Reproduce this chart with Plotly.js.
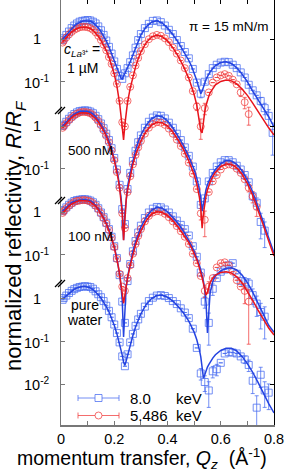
<!DOCTYPE html>
<html><head><meta charset="utf-8">
<script src="https://cdn.plot.ly/plotly-3.0.1.min.js"></script>
<style>html,body{margin:0;padding:0;background:#fff;}#chart{width:285px;height:474px;}</style>
</head><body><div id="chart"></div>
<script>
// ---------- data ----------
const qData = [0.006,0.01,0.02,0.03,0.04,0.05,0.06,0.07,0.08,0.09,0.10,0.11,0.12,0.13,0.14,0.15,0.16,0.17,0.18,0.19,0.20,0.21,0.22,0.23,0.24,0.25,0.26,0.27,0.28,0.29,0.30,0.315,0.33,0.345,0.36,0.375,0.39,0.405,0.42,0.435,0.45,0.465,0.48,0.495,0.51,0.525,0.54,0.555,0.57,0.585,0.60,0.615,0.63,0.645,0.66,0.675,0.69,0.705,0.72,0.735,0.75,0.765,0.78,0.795];
const qFit = [0.006,0.02,0.03,0.04,0.05,0.06,0.07,0.08,0.09,0.10,0.11,0.12,0.13,0.14,0.15,0.16,0.17,0.18,0.19,0.20,0.21,0.215,0.22,0.225,0.23,0.235,0.24,0.245,0.25,0.26,0.27,0.28,0.29,0.30,0.32,0.34,0.36,0.38,0.40,0.42,0.44,0.46,0.48,0.49,0.50,0.51,0.515,0.52,0.525,0.53,0.535,0.54,0.545,0.55,0.555,0.56,0.57,0.58,0.60,0.62,0.64,0.66,0.68,0.70,0.72,0.74,0.76,0.78,0.80];

const panelLabels = ['1 µM','500 nM','100 nM','pure water'];
const energyLabels = ['8.0 keV','5.486 keV'];

// panel 1: c = 1 uM
const p1BlueData = [0.96,1.05,1.26,1.51,1.82,2.09,2.34,2.57,2.69,2.75,2.82,2.75,2.57,2.34,2.0,1.62,1.26,0.93,0.66,0.46,0.30,0.20,0.138,0.117,0.158,0.209,0.288,0.417,0.631,0.955,1.32,1.82,2.29,2.69,2.75,2.51,2.09,1.66,1.32,0.955,0.692,0.50,0.355,0.20,0.0955,0.0525,0.10,0.151,0.209,0.251,0.282,0.295,0.288,0.251,0.209,0.166,0.126,0.085,0.063,0.048,0.0355,0.024,0.0158,0.0063];
const p1RedData = [0.83,0.91,1.10,1.29,1.48,1.66,1.78,1.91,1.95,1.95,1.91,1.82,1.66,1.45,1.20,0.955,0.741,0.55,0.38,0.263,0.158,0.0891,0.0355,0.0112,0.0089,0.0355,0.0759,0.141,0.24,0.363,0.525,0.759,1.0,1.17,1.26,1.20,1.05,0.851,0.631,0.457,0.316,0.209,0.126,0.0603,0.0263,0.0089,0.024,0.0562,0.0955,0.126,0.141,0.151,0.138,0.112,0.087,0.0562,0.0331,0.0174,null,null,null,null,null,null];
const p1BlueFit = [1.0,1.26,1.51,1.78,2.04,2.29,2.51,2.63,2.69,2.69,2.63,2.45,2.19,1.86,1.51,1.20,0.912,0.661,0.457,0.309,0.209,0.174,0.145,0.123,0.117,0.132,0.158,0.186,0.214,0.295,0.427,0.631,0.912,1.26,1.95,2.51,2.69,2.40,1.82,1.29,0.851,0.537,0.316,0.234,0.166,0.107,0.0832,0.0631,0.0525,0.0603,0.0759,0.0955,0.115,0.132,0.151,0.170,0.204,0.240,0.282,0.295,0.269,0.214,0.151,0.100,0.0603,0.038,0.024,0.0151,0.0087];
const p1RedFit = [0.87,1.10,1.29,1.48,1.62,1.78,1.86,1.91,1.91,1.86,1.78,1.62,1.41,1.17,0.933,0.724,0.537,0.380,0.251,0.151,0.0794,0.0525,0.0316,0.0166,0.0079,0.0043,0.01,0.02,0.0331,0.0708,0.132,0.224,0.347,0.501,0.832,1.12,1.23,1.15,0.912,0.631,0.398,0.229,0.120,0.0794,0.0501,0.0282,0.0191,0.012,0.0071,0.0063,0.012,0.02,0.0282,0.0372,0.0457,0.055,0.0708,0.0851,0.102,0.110,0.105,0.0891,0.0676,0.0479,0.0316,0.02,0.0126,0.0083,0.0056];

// panel 2: 500 nM
const p2BlueData = [1.0,1.07,1.26,1.48,1.70,1.91,2.09,2.24,2.29,2.34,2.29,2.19,2.0,1.74,1.45,1.15,0.891,0.661,0.468,0.302,0.178,0.0955,0.0417,0.0112,0.005,0.0331,0.0794,0.151,0.263,0.417,0.603,0.912,1.26,1.58,1.78,1.74,1.51,1.20,0.912,0.661,0.468,0.316,0.20,0.112,0.0501,0.0141,0.02,0.0501,0.0794,0.112,0.141,0.158,0.158,0.141,0.117,0.0955,0.0708,0.0479,0.0224,0.0158,0.0056,0.0035,null,null];
const p2RedData = [0.91,1.0,1.17,1.38,1.58,1.78,1.95,2.09,2.14,2.14,2.09,2.0,1.82,1.58,1.32,1.05,0.794,0.589,0.417,0.269,0.158,0.0832,0.0355,0.0089,0.004,0.0282,0.0661,0.126,0.209,0.316,0.447,0.661,0.912,1.12,1.23,1.20,1.07,0.871,0.661,0.479,0.339,0.224,0.138,0.0759,0.0331,0.0089,0.0063,0.0282,0.0501,0.0708,0.0955,0.120,0.126,0.120,0.1,0.0794,0.0562,0.0355,0.0224,0.0126,null,null,null,null];
const p2BlueFit = [1.0,1.26,1.48,1.70,1.91,2.09,2.19,2.24,2.24,2.19,2.09,1.91,1.66,1.38,1.10,0.851,0.631,0.447,0.288,0.174,0.0933,0.0631,0.0398,0.0224,0.0105,0.0021,0.0089,0.0224,0.038,0.0832,0.158,0.269,0.427,0.617,1.05,1.48,1.74,1.66,1.32,0.912,0.575,0.347,0.191,0.138,0.0955,0.0603,0.0447,0.0316,0.02,0.01,0.0151,0.024,0.0331,0.0417,0.0501,0.0589,0.0759,0.0955,0.132,0.155,0.151,0.126,0.0891,0.0537,0.0282,0.0132,0.0056,0.0024,0.00105];
const p2RedFit = [0.912,1.17,1.38,1.58,1.78,1.91,2.0,2.04,2.04,2.0,1.91,1.74,1.51,1.26,1.0,0.776,0.575,0.407,0.263,0.158,0.0832,0.0562,0.0355,0.019,0.0089,0.0021,0.0079,0.019,0.0316,0.0692,0.126,0.209,0.316,0.447,0.759,1.05,1.23,1.20,1.0,0.724,0.468,0.282,0.151,0.107,0.0724,0.0437,0.0316,0.0209,0.012,0.004,0.0089,0.0158,0.0234,0.0316,0.0398,0.0479,0.0646,0.0813,0.112,0.129,0.126,0.105,0.0741,0.0447,0.0234,0.011,0.0047,0.002,0.00089];

// panel 3: 100 nM
const p3BlueData = [1.05,1.12,1.29,1.48,1.66,1.82,1.91,1.95,2.0,2.0,1.95,1.86,1.70,1.48,1.23,0.977,0.759,0.562,0.398,0.263,0.158,0.0832,0.0331,0.0079,0.0025,0.024,0.0603,0.120,0.209,0.331,0.479,0.724,0.977,1.20,1.32,1.29,1.15,0.977,0.794,0.631,0.501,0.398,0.282,0.158,0.0891,0.038,0.0079,0.0025,0.0158,0.0282,0.0398,0.0447,0.0562,0.0631,0.0355,0.024,0.0224,0.0209,0.0112,0.0071,0.0045,0.0035,null,null];
const p3RedData = [0.955,1.05,1.23,1.41,1.58,1.74,1.82,1.86,1.91,1.91,1.86,1.78,1.62,1.41,1.17,0.933,0.724,0.537,0.380,0.251,0.151,0.0794,0.0355,0.0178,0.0141,0.0282,0.0562,0.105,0.178,0.275,0.398,0.603,0.813,0.977,1.05,1.02,0.912,0.759,0.603,0.468,0.355,0.263,0.178,0.105,0.0631,0.0316,0.0141,0.0178,0.0282,0.0501,0.0631,0.066,0.0562,0.0398,0.0251,0.0178,0.0141,0.0079,null,null,null,null,null,null];
const p3BlueFit = [1.05,1.29,1.48,1.66,1.78,1.86,1.91,1.95,1.95,1.91,1.82,1.66,1.45,1.20,0.955,0.741,0.550,0.389,0.257,0.155,0.0813,0.055,0.0347,0.019,0.0083,0.00117,0.0071,0.0178,0.0302,0.0646,0.120,0.20,0.309,0.447,0.759,1.10,1.29,1.23,1.02,0.759,0.537,0.355,0.219,0.166,0.120,0.0851,0.0692,0.0562,0.0437,0.0331,0.024,0.0151,0.0071,0.00145,0.0063,0.0126,0.0234,0.0316,0.0417,0.0479,0.049,0.0437,0.0331,0.0219,0.0132,0.0074,0.004,0.0022,0.0015];
const p3RedFit = [0.955,1.20,1.38,1.55,1.70,1.78,1.86,1.86,1.86,1.82,1.74,1.58,1.38,1.15,0.912,0.708,0.525,0.372,0.245,0.148,0.0794,0.0537,0.0347,0.0209,0.012,0.0072,0.0112,0.019,0.0282,0.0562,0.102,0.170,0.257,0.363,0.631,0.891,1.02,0.977,0.832,0.631,0.447,0.302,0.191,0.145,0.107,0.0759,0.0617,0.049,0.038,0.0288,0.0209,0.0148,0.0112,0.0132,0.0174,0.0219,0.0282,0.0331,0.038,0.0398,0.0372,0.0302,0.0219,0.0141,0.0085,0.005,0.003,0.0019,0.0013];

// panel 4: pure water (8.0 keV only)
const p4BlueData = [0.955,1.05,1.20,1.38,1.55,1.70,1.82,1.91,1.95,2.0,1.95,1.91,1.74,1.51,1.29,1.10,0.891,0.692,0.525,0.372,0.251,0.158,0.0955,0.0447,0.0263,0.0501,0.0955,0.151,0.234,0.331,0.447,0.661,0.891,1.07,1.20,1.23,1.17,1.05,0.891,0.759,0.603,0.479,0.355,0.20,0.0708,0.0178,0.0112,0.0071,0.02,0.0224,0.0316,0.0525,0.0562,0.055,0.0525,0.0447,0.038,0.0282,0.012,0.0028,0.0166,0.0071,0.0063,null];
const p4BlueFit = [1.0,1.20,1.38,1.55,1.70,1.82,1.91,1.95,1.95,1.91,1.82,1.66,1.48,1.26,1.05,0.851,0.661,0.501,0.355,0.240,0.151,0.117,0.0891,0.0661,0.0479,0.0331,0.0275,0.0355,0.0479,0.0832,0.138,0.219,0.324,0.447,0.741,1.02,1.20,1.23,1.10,0.891,0.661,0.468,0.302,0.229,0.166,0.110,0.0851,0.0631,0.0437,0.0251,0.0138,0.0166,0.0209,0.0251,0.0288,0.0331,0.0407,0.049,0.0617,0.0692,0.0692,0.0603,0.0447,0.0302,0.019,0.011,0.006,0.0035,0.0021];

// relative error bars for the tail of qData (from q = 0.45 on)
const errTailStart = 40;
const p1BlueErr = [0,0,0,0,0,0.2,0.1,0,0,0,0,0,0,0,0,0,0,0,0,0,0.2,0.3,0.4,0.7];
const p1RedErr  = [0,0,0,0,0.2,0.5,0.3,0,0,0,0,0,0,0,0,0.2,0.3,0.45,0,0,0,0,0,0];
const p2BlueErr = [0,0,0,0,0,0,0,0,0,0,0,0,0,0,0,0,0,0,0.2,0.3,0.6,0.6,0,0];
const p2RedErr  = [0,0,0,0,0,0.3,0.6,0,0,0,0,0,0,0,0,0,0,0.2,0.3,0.4,0,0,0,0];
const p3BlueErr = [0,0,0,0,0,0,0.3,0.7,0.3,0,0,0,0,0,0,0,0.3,0.3,0.4,0.5,0.6,0.7,0,0];
const p3RedErr  = [0,0,0,0,0,0,0.3,0.3,0,0,0,0,0,0,0,0,0.5,0.9,0,0,0,0,0,0];
const p4BlueErr = [0,0,0,0,0,0.3,0.4,0.6,0.3,0.3,0,0,0,0,0,0,0.2,0.3,0.5,0.9,0.5,0.6,0.6,0];

// stacking: each curve is shifted by this many decades
const panelOffsetDecades = [6.10, 4.06, 2.04, 0];
const panelTickDecades = [[0,-1],[0,-1],[0,-1],[0,-1,-2]];
const yTickText = {'0':'1','-1':'10<sup>-1</sup>','-2':'10<sup>-2</sup>'};
const xTickVals = [0,0.2,0.4,0.6,0.8];
const xTickText = ['0','0.2','0.4','0.6','0.8'];
const xMinorTickVals = [0.1,0.3,0.5,0.7];

// ---------- style ----------
const blueMarker = 'rgba(70,105,240,0.75)';
const redMarker = 'rgba(240,60,60,0.75)';
const blueLine = '#2443e0';
const redLine = '#e8141c';
const FONT = 'Liberation Sans, Arial, Helvetica, sans-serif';

const series = [
  {blue:p1BlueData, red:p1RedData, blueFit:p1BlueFit, redFit:p1RedFit, blueErr:p1BlueErr, redErr:p1RedErr},
  {blue:p2BlueData, red:p2RedData, blueFit:p2BlueFit, redFit:p2RedFit, blueErr:p2BlueErr, redErr:p2RedErr},
  {blue:p3BlueData, red:p3RedData, blueFit:p3BlueFit, redFit:p3RedFit, blueErr:p3BlueErr, redErr:p3RedErr},
  {blue:p4BlueData, red:null, blueFit:p4BlueFit, redFit:null, blueErr:p4BlueErr, redErr:null}
];

function shift(arr, p){ const f = Math.pow(10, panelOffsetDecades[p]); return arr.map(v => v == null ? null : v * f); }
function errArr(arr, tail, p){
  const f = Math.pow(10, panelOffsetDecades[p]);
  return arr.map((v, i) => { const k = i - errTailStart; const e = (k >= 0 && k < tail.length) ? tail[k] : 0; return (v != null && e > 0) ? v * e * f : null; });
}

const traces = [];
series.forEach((s, p) => {
  traces.push({type:'scatter', mode:'markers', x:qData, y:shift(s.blue, p), name:energyLabels[0]+' '+panelLabels[p],
    marker:{symbol:'square-open', size:7, color:blueMarker, line:{width:1}},
    error_y:{type:'data', symmetric:false, array:errArr(s.blue, s.blueErr, p), arrayminus:errArr(s.blue, s.blueErr, p), color:blueMarker, thickness:1, width:2},
    showlegend:false, hoverinfo:'skip'});
  if (s.red) traces.push({type:'scatter', mode:'markers', x:qData, y:shift(s.red, p), name:energyLabels[1]+' '+panelLabels[p],
    marker:{symbol:'circle-open', size:7, color:redMarker, line:{width:1}},
    error_y:{type:'data', symmetric:false, array:errArr(s.red, s.redErr, p), arrayminus:errArr(s.red, s.redErr, p), color:redMarker, thickness:1, width:2},
    showlegend:false, hoverinfo:'skip'});
});
series.forEach((s, p) => {
  traces.push({type:'scatter', mode:'lines', x:qFit, y:shift(s.blueFit, p), line:{color:blueLine, width:1.5}, showlegend:false, hoverinfo:'skip'});
  if (s.redFit) traces.push({type:'scatter', mode:'lines', x:qFit, y:shift(s.redFit, p), line:{color:redLine, width:1.5}, showlegend:false, hoverinfo:'skip'});
});
// empty trace so that the mirrored (top/right) axes exist
traces.push({type:'scatter', mode:'markers', x:[], y:[], xaxis:'x2', yaxis:'y2', showlegend:false, hoverinfo:'skip'});

// ---------- layout helpers (pixel -> paper) ----------
const L = 61, T = 0, W = 213, H = 425;
const px = x => (x - L) / W;
const py = y => 1 - (y - T) / H;

const yTickVals = [];
const annotations = [];
panelTickDecades.forEach((ds, p) => ds.forEach(d => {
  const dec = panelOffsetDecades[p] + d;
  yTickVals.push(Math.pow(10, dec));
  annotations.push({xref:'paper', yref:'y', x:px(37), y:dec, text:yTickText[String(d)], showarrow:false, xanchor:'center', yanchor:'middle', font:{size:14.5, family:FONT}});
}));

const ann = (text, x, y, xa, size, extra) => Object.assign({xref:'paper', yref:'paper', x:px(x), y:py(y), text:text, showarrow:false, xanchor:xa, yanchor:'middle', font:{size:size, family:FONT, color:'#000'}}, extra || {});
annotations.push(ann('π = 15 mN/m', 270, 27, 'right', 13.5));
annotations.push(ann('<i>c</i><sub><i>La</i>³⁺</sub> =', 62, 50, 'left', 14));
annotations.push(ann('1 µM', 65, 68, 'left', 14));
annotations.push(ann('500 nM', 66, 151, 'left', 13.5));
annotations.push(ann('100 nM', 66, 236, 'left', 13.5));
annotations.push(ann('pure', 85, 305, 'center', 14));
annotations.push(ann('water', 85, 320, 'center', 14));
// legend texts
annotations.push(ann('8.0', 128, 398, 'left', 15));
annotations.push(ann('keV', 174, 398, 'left', 15));
annotations.push(ann('5.486', 128, 415.5, 'left', 15));
annotations.push(ann('keV', 174, 415.5, 'left', 15));
// axis titles
annotations.push(ann('momentum transfer, <i>Q</i><sub><i>z</i></sub>\u00A0 (Å<sup>-1</sup>)', 142, 458, 'center', 19.5));
annotations.push(ann('normalized reflectivity, <i>R</i>/<i>R</i><sub><i>F</i></sub>', 15, 236, 'center', 22, {textangle:-90}));

// shapes: axis break marks and legend symbols
const shapes = [];
[110, 200, 283].forEach(b => {
  [[55, b + 4, 62, b - 3], [58, b + 4, 65, b - 3]].forEach(s => shapes.push({type:'line', xref:'paper', yref:'paper', x0:px(s[0]), y0:py(s[1]), x1:px(s[2]), y1:py(s[3]), line:{color:'#000', width:1.3}}));
});
[[398, blueMarker, 'rect'], [415.5, redMarker, 'circle']].forEach(r => {
  const y = r[0], c = r[1];
  shapes.push({type:'line', xref:'paper', yref:'paper', x0:px(78), y0:py(y), x1:px(119), y1:py(y), line:{color:c, width:1}});
  shapes.push({type:'line', xref:'paper', yref:'paper', x0:px(78), y0:py(y - 3), x1:px(78), y1:py(y + 3), line:{color:c, width:1}});
  shapes.push({type:'line', xref:'paper', yref:'paper', x0:px(119), y0:py(y - 3), x1:px(119), y1:py(y + 3), line:{color:c, width:1}});
  shapes.push({type:r[2], xref:'paper', yref:'paper', x0:px(95), y0:py(y - 3.5), x1:px(102), y1:py(y + 3.5), fillcolor:'#fff', line:{color:c, width:1}});
});

const yRange = [-2.96, 7.02];
const layout = {
  width:285, height:474,
  margin:{l:L, r:285 - L - W, t:T, b:474 - T - H, pad:0},
  paper_bgcolor:'#fff', plot_bgcolor:'#fff',
  showlegend:false,
  font:{family:FONT, size:14, color:'#000'},
  xaxis:{range:[0,0.8], tickmode:'array', tickvals:xTickVals, ticktext:xTickText, ticks:'inside', ticklen:4, tickwidth:1, tickcolor:'#777',
         minor:{tickmode:'array', tickvals:xMinorTickVals, ticks:'inside', ticklen:4, tickwidth:1, tickcolor:'#777', showgrid:false},
         showline:true, linecolor:'#777', linewidth:1.5, showgrid:false, zeroline:false, tickfont:{size:14.5, family:FONT}},
  xaxis2:{overlaying:'x', side:'top', range:[0,0.8], tickmode:'array', tickvals:xTickVals, showticklabels:false, ticks:'inside', ticklen:4, tickcolor:'#000',
         minor:{tickmode:'array', tickvals:xMinorTickVals, ticks:'inside', ticklen:4, tickcolor:'#000', showgrid:false},
         showline:true, linecolor:'#000', linewidth:1, showgrid:false, zeroline:false},
  yaxis:{type:'log', range:yRange, tickmode:'array', tickvals:yTickVals, showticklabels:false, ticks:'inside', ticklen:4, tickcolor:'#777',
         showline:true, linecolor:'#777', linewidth:1.5, showgrid:false, zeroline:false},
  yaxis2:{type:'log', overlaying:'y', side:'right', range:yRange, tickmode:'array', tickvals:yTickVals, showticklabels:false, ticks:'inside', ticklen:4, tickcolor:'#000',
         showline:true, linecolor:'#000', linewidth:1, showgrid:false, zeroline:false},
  annotations:annotations,
  shapes:shapes
};

Plotly.newPlot('chart', traces, layout, {staticPlot:true, displayModeBar:false});
</script>
</body></html>
